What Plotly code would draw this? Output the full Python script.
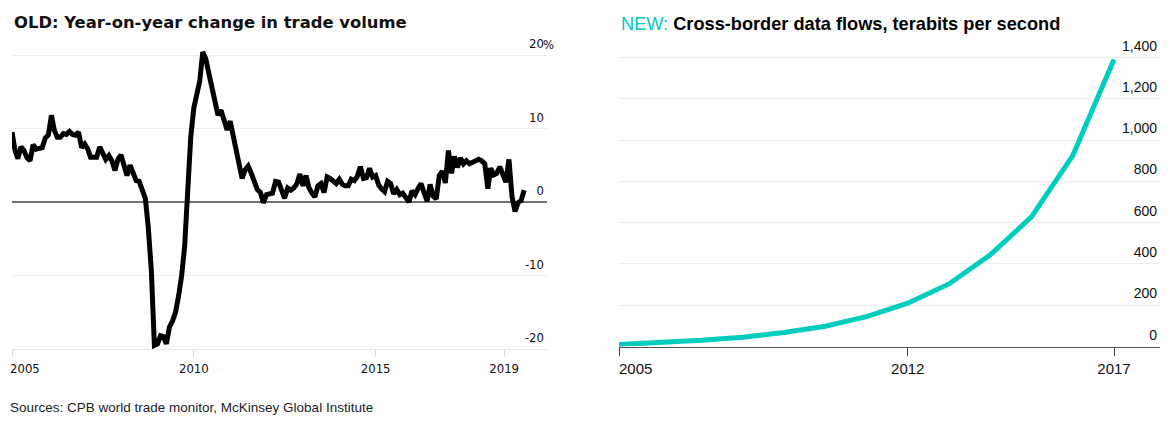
import pandas as pd
import plotly.graph_objects as go

# ---------------- data ----------------
# OLD: year-on-year change in world trade volume (%), monthly from Jan 2005
trade_yoy = [
    9.5, 7.0, 5.9, 7.5, 7.0, 6.0, 5.6, 7.8, 7.2, 7.3, 7.4, 8.7,
    9.1, 11.8, 9.8, 8.8, 8.8, 9.3, 9.2, 9.6, 9.2, 9.1, 9.5, 7.4,
    7.9, 7.2, 6.1, 6.1, 6.1, 7.5, 6.8, 5.8, 6.3, 5.6, 4.3, 5.8,
    6.4, 4.8, 3.6, 5.0, 4.0, 2.9, 2.8, 1.7, 0.5, -3.5, -9.5, -19.5,
    -19.3, -18.2, -18.3, -19.3, -17.0, -16.2, -15.0, -12.8, -10.0, -6.0, 1.0, 8.8,
    12.8, 14.8, 16.4, 20.4, 19.5, 17.5, 15.6, 14.0, 11.8, 12.5, 11.0, 9.8,
    11.0, 8.8, 7.2, 5.5, 3.2, 4.4, 4.9, 3.9, 2.6, 1.7, 1.3, -0.1,
    1.0, 1.1, 1.2, 2.8, 2.7, 1.6, 0.5, 1.9, 1.6, 1.9, 2.5, 3.8,
    2.2, 3.6, 2.0, 1.2, 0.7, 2.2, 2.5, 1.3, 3.4, 3.2, 2.8, 2.5,
    3.1, 2.4, 2.2, 2.2, 3.1, 2.9, 3.5, 4.8, 3.2, 3.3, 4.6, 3.4,
    3.6, 2.3, 1.8, 1.4, 2.8, 2.5, 1.1, 1.7, 1.0, 1.2, 0.6, 0.0,
    1.5, 1.0, 1.8, 2.5, 1.3, 0.1, 2.4, 0.8, 0.4, 3.6, 4.2, 2.6,
    7.0, 3.9, 6.2, 4.7, 6.0, 5.2, 5.6, 5.2, 5.4, 5.7, 5.8, 5.6,
    5.2, 1.8, 4.6, 3.7, 3.9, 4.8, 3.9, 2.7, 5.8, 0.8, -1.3, -0.1,
    0.2, 1.6,
]
trade_start = "2005-01-01"

trade_tick_dates = ["2005-01-01", "2010-01-01", "2015-01-01", "2018-07-15"]
trade_tick_text = ["", "2010", "2015", "2019"]   # first label drawn left-aligned below
trade_first_label = "2005"
trade_y_ticks = [-20, -10, 0, 10, 20]
trade_y_text = ["-20", "-10", "0", "10", "20"]

# NEW: cross-border data flows, terabits per second
flow_years = [2005, 2006, 2007, 2008, 2009, 2010, 2011, 2012, 2013, 2014, 2015, 2016, 2017]
flow_tbps = [10, 18, 30, 45, 68, 98, 145, 210, 303, 444, 628, 925, 1390]
flow_tick_years = [2005, 2012, 2017]
flow_tick_text = ["\u00a0" * 8 + "2005", "2012", "2017"]
flow_y_ticks = [0, 200, 400, 600, 800, 1000, 1200, 1400]

# ---------------- figure ----------------
# the page body has an 8px default margin, so the figure is drawn 8px in
OFF = 8
W, H = 1168 - OFF, 430 - OFF


def fx(px):  # window pixel x -> paper fraction
    return (px - OFF) / W


def fy(py):  # window pixel y -> paper fraction
    return 1 - (py - OFF) / H


trade_dates = pd.date_range(trade_start, periods=len(trade_yoy), freq="MS")

fig = go.Figure()
fig.add_trace(go.Scatter(
    x=trade_dates, y=trade_yoy, mode="lines",
    line=dict(color="#000000", width=5), xaxis="x", yaxis="y",
    hoverinfo="skip",
))
fig.add_trace(go.Scatter(
    x=flow_years, y=flow_tbps, mode="lines",
    line=dict(color="#00CDBE", width=5), xaxis="x2", yaxis="y2",
    hoverinfo="skip",
))

left_font = dict(family="DejaVu Sans Condensed, DejaVu Sans", size=13, color="#111111")
right_font = dict(family="Liberation Sans, Arial", size=14, color="#111111")

TOP = 35  # window px, top of plotting areas

fig.update_layout(
    width=W, height=H,
    margin=dict(l=0, r=0, t=0, b=0, autoexpand=False),
    paper_bgcolor="white", plot_bgcolor="white",
    showlegend=False,
    xaxis=dict(
        domain=[fx(12), fx(547)], type="date",
        range=["2005-01-01", "2019-09-18"],
        tickvals=trade_tick_dates, ticktext=trade_tick_text,
        ticks="outside", ticklen=7, tickcolor="#dddddd", tickwidth=1,
        showgrid=False, zeroline=False,
        showline=True, linecolor="#e6e6e6", linewidth=1,
        tickfont=left_font, anchor="y", automargin=False,
        ticklabeloverflow="allow",
    ),
    yaxis=dict(
        domain=[fy(349), fy(TOP)],
        range=[-20, 20 + (55 - TOP) / 7.35], side="right", anchor="x",
        tickvals=trade_y_ticks, ticktext=trade_y_text,
        ticklabelposition="inside top", ticklabelshift=-2,
        showgrid=True, gridcolor="#eeeeee", gridwidth=1,
        zeroline=True, zerolinecolor="#707070", zerolinewidth=1.5,
        showline=False, ticks="", tickfont=left_font, automargin=False,
        ticklabeloverflow="allow",
    ),
    xaxis2=dict(
        domain=[fx(619), fx(1160)],
        range=[2005, 2018.115],
        tickvals=flow_tick_years, ticktext=flow_tick_text,
        ticks="outside", ticklen=8, tickcolor="#444444", tickwidth=1.2,
        showgrid=False, zeroline=False,
        showline=True, linecolor="#555555", linewidth=1.2,
        tickfont=dict(family="Liberation Sans, Arial", size=15, color="#111111"),
        anchor="y2", automargin=False, ticklabeloverflow="allow",
    ),
    yaxis2=dict(
        domain=[fy(346.5), fy(TOP)],
        range=[0, 1400 + (57.5 - TOP) / 0.2064], side="right", anchor="x2",
        tickvals=flow_y_ticks, tickformat=",",
        ticklabelposition="inside top", ticklabelshift=-2,
        showgrid=True, gridcolor="#eeeeee", gridwidth=1,
        zeroline=False, showline=False, ticks="", tickfont=right_font,
        automargin=False, ticklabeloverflow="allow",
    ),
    annotations=[
        dict(text="<b>OLD: Year-on-year change in trade volume</b>",
             xref="paper", yref="paper", x=fx(12), y=fy(23),
             xanchor="left", yanchor="middle", showarrow=False,
             font=dict(family="DejaVu Sans", size=16.4, color="#111111")),
        dict(text="%", xref="paper", yref="paper", x=fx(556), y=fy(45),
             xanchor="right", yanchor="middle", showarrow=False,
             font=left_font),
        dict(text=trade_first_label, xref="x", yref="paper",
             x=trade_tick_dates[0], y=fy(368), xshift=-4,
             xanchor="left", yanchor="middle", showarrow=False,
             font=left_font),
        dict(text="<span style='color:#00CDBE'>NEW:</span> <b>Cross-border data flows, terabits per second</b>",
             xref="paper", yref="paper", x=fx(619), y=fy(24),
             xanchor="left", yanchor="middle", showarrow=False,
             font=dict(family="Liberation Sans, Arial", size=18.2, color="#000000")),
        dict(text="Sources: CPB world trade monitor, McKinsey Global Institute",
             xref="paper", yref="paper", x=fx(8), y=fy(407),
             xanchor="left", yanchor="middle", showarrow=False,
             font=dict(family="Liberation Sans, Arial", size=13.5, color="#222222")),
    ],
)

fig.write_html("out.html")
